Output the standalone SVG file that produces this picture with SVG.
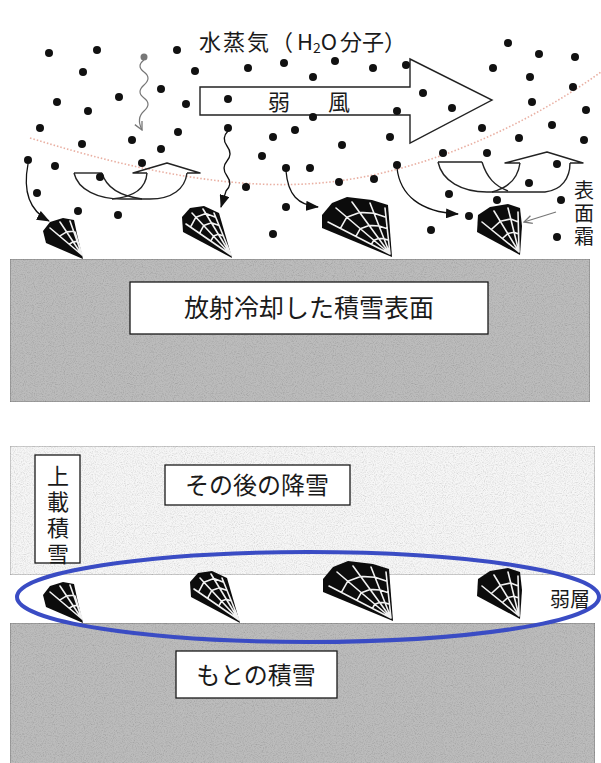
<svg xmlns="http://www.w3.org/2000/svg" xmlns:xlink="http://www.w3.org/1999/xlink" width="601" height="763" viewBox="0 0 601 763">
  <style>
    .lbl { font-family: "Noto Sans CJK JP", "Noto Sans", sans-serif; fill: #1a1a1a; }
    .vert { writing-mode: vertical-rl; text-orientation: upright; }
    .box { fill: #ffffff; stroke: #1a1a1a; stroke-width: 1.3; }
    .dot { fill: #111111; }
    .crys { fill: #0c0c0c; }
    .web { fill: none; stroke: #f2f2f2; stroke-width: 1.6; stroke-linecap: round; stroke-linejoin: round; }
    .flow { fill: none; stroke: #111111; stroke-width: 1.3; }
    .hollow { fill: none; stroke: #222222; stroke-width: 1.4; stroke-linejoin: round; }
    .snow { fill: #bcbcbc; stroke: #7a7a7a; stroke-width: 1; }
    .fresh { fill: #f6f6f6; stroke: #a0a0a0; stroke-width: 1; }
  </style>
  <defs>
    <marker id="ah" viewBox="0 0 13 10" refX="12" refY="5" markerWidth="13" markerHeight="10" markerUnits="userSpaceOnUse" orient="auto">
      <path d="M0,0 L13,5 L0,10 Z" fill="#111"/>
    </marker>
    <marker id="av" viewBox="0 0 10 10" refX="9" refY="5" markerWidth="10" markerHeight="10" markerUnits="userSpaceOnUse" orient="auto">
      <path d="M1,1 L9,5 L1,9" fill="none" stroke="#777" stroke-width="1.3"/>
    </marker>
    <filter id="grain" x="0" y="0" width="100%" height="100%">
      <feTurbulence type="fractalNoise" baseFrequency="0.9" numOctaves="2" seed="4" result="n"/>
      <feColorMatrix in="n" type="matrix" values="0.3 0.3 0.3 0 0.5  0.3 0.3 0.3 0 0.5  0.3 0.3 0.3 0 0.5  0 0 0 0 1" result="g"/>
      <feBlend in="SourceGraphic" in2="g" mode="multiply" result="b"/>
      <feComposite in="b" in2="SourceGraphic" operator="in"/>
    </filter>
    <!-- frost crystals: black faceted bodies with a white web of radial and cross lines -->
    <g id="cr1">
      <polygon class="crys" points="43,231 50,222 63,218 74,220 77,234 83,259 46,243"/>
      <path class="web" d="M82,255 L50,228 M82,255 L60,222 M82,255 L70,221 M82,255 L75,232 M59.6,236.1 L66.6,231.9 L73.6,231.2 L77.1,238.9 M69.2,244.2 L73.2,241.8 L77.2,241.4 L79.2,245.8"/>
    </g>
    <g id="cr2">
      <polygon class="crys" points="182,217 190,208 204,206 219,213 232,258 183,232"/>
      <path class="web" d="M231,255 L186,224 M231,255 L192,213 M231,255 L203,209 M231,255 L214,213 M190.5,227.1 L195.9,217.2 L205.8,213.6 L215.7,217.2 M199.5,233.3 L203.7,225.6 L211.4,222.8 L219.1,225.6 M210.8,241.1 L213.5,236.1 L218.4,234.3 L223.4,236.1"/>
    </g>
    <g id="cr3">
      <polygon class="crys" points="322,215 332,203 347,197 372,200 388,205 392,257 322,228"/>
      <path class="web" d="M390,254 L328,222 M390,254 L336,208 M390,254 L352,202 M390,254 L370,203 M390,254 L385,208 M340.4,228.4 L346.8,217.2 L359.6,212.4 L374,213.2 L386,217.2 M355.9,236.4 L360.3,228.7 L369.1,225.4 L379,226 L387.3,228.7 M371.4,244.4 L373.8,240.2 L378.6,238.4 L384,238.7 L388.5,240.2"/>
    </g>
    <g id="cr4">
      <polygon class="crys" points="478,215 490,207 508,204 520,208 522,226 520,255 477,232"/>
      <path class="web" d="M519,252 L482,222 M519,252 L494,211 M519,252 L508,208 M519,252 L518,212 M491.3,229.5 L500.3,221.3 L510.8,219 L518.3,222 M502.4,238.5 L507.8,233.6 L514,232.2 L518.6,234"/>
    </g>
  </defs>

  <rect width="601" height="763" fill="#ffffff"/>

  <!-- cold-air boundary above the snow surface -->
  <path d="M30,138 C140,172 240,192 330,182 C420,172 520,130 601,72" fill="none" stroke="#e39b8b" stroke-width="1.6" stroke-dasharray="1.5 2" opacity="0.8"/>

  <!-- upper panel: radiatively cooled snow surface -->
  <g id="snow-surface">
    <rect class="snow" x="10" y="259" width="580" height="143" filter="url(#grain)"/>
    <rect class="box" x="130" y="282" width="358" height="52"/>
    <text class="lbl" x="309" y="317" font-size="25" text-anchor="middle">放射冷却した積雪表面</text>
  </g>

  <g id="vapor-title">
    <text class="lbl" y="50" font-size="22"><tspan x="199" letter-spacing="2">水蒸気（</tspan><tspan x="297">H</tspan><tspan font-size="14" dy="3">2</tspan><tspan dy="-3">O</tspan><tspan x="340">分子）</tspan></text>
  </g>

  <g id="wind">
    <path d="M200,87 H410 V59 L492,100 L410,143 V115 H200 Z" fill="#ffffff" stroke="#222" stroke-width="1.4" stroke-linejoin="miter"/>
    <text class="lbl" x="268" y="110" font-size="22" letter-spacing="8">弱　風</text>
  </g>

  <!-- turbulent exchange near the surface -->
  <g id="eddy-left" class="hollow">
    <path d="M74,173 C78,190 98,199 122,199 L150,199 C172,199 185,189 187,173"/>
    <path d="M74,173 H102"/>
    <path d="M102,173 C106,187 120,196 142,199"/>
    <path d="M147,173 C146,188 134,197 112,199"/>
    <path d="M147,173 H133 L167,163 L200,173 H187"/>
  </g>
  <g id="eddy-right" class="hollow">
    <path d="M438,162 C442,181 462,192 487,192 L545,192 C562,190 570,178 570,163"/>
    <path d="M438,162 H482"/>
    <path d="M482,162 C487,178 495,186 508,191"/>
    <path d="M520,163 C518,178 508,188 492,192"/>
    <path d="M520,163 H505 L547,152 L583,163 H570"/>
  </g>

  <!-- water vapour molecules -->
  <g id="vapor">
    <circle class="dot" cx="49" cy="53" r="4"/><circle class="dot" cx="97" cy="50" r="4"/><circle class="dot" cx="177" cy="50" r="4"/>
    <circle class="dot" cx="83" cy="72" r="4"/><circle class="dot" cx="195" cy="71" r="4"/><circle class="dot" cx="248" cy="68" r="4"/>
    <circle class="dot" cx="284" cy="63" r="4"/><circle class="dot" cx="161" cy="89" r="4"/><circle class="dot" cx="57" cy="102" r="4"/>
    <circle class="dot" cx="119" cy="97" r="4"/><circle class="dot" cx="186" cy="104" r="4"/><circle class="dot" cx="228" cy="99" r="4"/>
    <circle class="dot" cx="88" cy="111" r="4"/><circle class="dot" cx="40" cy="128" r="4"/><circle class="dot" cx="178" cy="132" r="4"/>
    <circle class="dot" cx="228" cy="128" r="4"/><circle class="dot" cx="273" cy="137" r="4"/><circle class="dot" cx="295" cy="130" r="4"/>
    <circle class="dot" cx="82" cy="144" r="4"/><circle class="dot" cx="132" cy="140" r="4"/><circle class="dot" cx="161" cy="149" r="4"/>
    <circle class="dot" cx="262" cy="156" r="4"/><circle class="dot" cx="28" cy="160" r="4"/><circle class="dot" cx="55" cy="166" r="4"/>
    <circle class="dot" cx="142" cy="163" r="4"/><circle class="dot" cx="286" cy="168" r="4"/><circle class="dot" cx="100" cy="177" r="4"/>
    <circle class="dot" cx="246" cy="187" r="4"/><circle class="dot" cx="37" cy="193" r="4"/><circle class="dot" cx="78" cy="211" r="4"/>
    <circle class="dot" cx="118" cy="215" r="4"/><circle class="dot" cx="286" cy="207" r="4"/><circle class="dot" cx="273" cy="234" r="4"/>
    <circle class="dot" cx="508" cy="43" r="4"/><circle class="dot" cx="335" cy="61" r="4"/><circle class="dot" cx="373" cy="68" r="4"/>
    <circle class="dot" cx="406" cy="65" r="4"/><circle class="dot" cx="313" cy="77" r="4"/><circle class="dot" cx="539" cy="54" r="4"/>
    <circle class="dot" cx="575" cy="57" r="4"/><circle class="dot" cx="493" cy="68" r="4"/><circle class="dot" cx="530" cy="77" r="4"/>
    <circle class="dot" cx="573" cy="87" r="4"/><circle class="dot" cx="423" cy="93" r="4"/><circle class="dot" cx="452" cy="108" r="4"/>
    <circle class="dot" cx="397" cy="111" r="4"/><circle class="dot" cx="313" cy="117" r="4"/><circle class="dot" cx="532" cy="102" r="4"/>
    <circle class="dot" cx="586" cy="110" r="4"/><circle class="dot" cx="482" cy="128" r="4"/><circle class="dot" cx="552" cy="125" r="4"/>
    <circle class="dot" cx="390" cy="137" r="4"/><circle class="dot" cx="342" cy="145" r="4"/><circle class="dot" cx="519" cy="138" r="4"/>
    <circle class="dot" cx="584" cy="140" r="4"/><circle class="dot" cx="443" cy="153" r="4"/><circle class="dot" cx="487" cy="153" r="4"/>
    <circle class="dot" cx="310" cy="168" r="4"/><circle class="dot" cx="397" cy="165" r="4"/><circle class="dot" cx="339" cy="182" r="4"/>
    <circle class="dot" cx="374" cy="179" r="4"/><circle class="dot" cx="557" cy="164" r="4"/><circle class="dot" cx="529" cy="183" r="4"/>
    <circle class="dot" cx="449" cy="194" r="4"/><circle class="dot" cx="497" cy="200" r="4"/><circle class="dot" cx="561" cy="200" r="4"/>
    <circle class="dot" cx="469" cy="216" r="4"/><circle class="dot" cx="431" cy="230" r="4"/><circle class="dot" cx="557" cy="237" r="4"/>
    <circle cx="144" cy="57" r="3.5" fill="#777"/>
  </g>

  <!-- surface hoar on the cooled surface -->
  <g id="hoar-top-1"><use href="#cr1" xlink:href="#cr1"/></g>
  <g id="hoar-top-2"><use href="#cr2" xlink:href="#cr2"/></g>
  <g id="hoar-top-3"><use href="#cr3" xlink:href="#cr3"/></g>
  <g id="hoar-top-4"><use href="#cr4" xlink:href="#cr4"/></g>

  <g id="hoar-label">
    <text class="lbl vert" x="584" y="180" font-size="20" letter-spacing="3" fill="#333">表面霜</text>
  </g>

  <!-- lower panel: buried weak layer -->
  <g id="new-snow">
    <rect class="fresh" x="10" y="446" width="585" height="129" filter="url(#grain)"/>
    <rect class="box" x="35" y="455" width="45" height="108"/>
    <text class="lbl vert" x="58" y="465" font-size="22" letter-spacing="4">上載積雪</text>
    <rect class="box" x="165" y="465" width="185" height="40"/>
    <text class="lbl" x="257" y="494" font-size="24" text-anchor="middle">その後の降雪</text>
  </g>

  <g id="old-snow">
    <rect class="snow" x="10" y="623" width="585" height="145" filter="url(#grain)"/>
    <rect class="box" x="176" y="651" width="161" height="47"/>
    <text class="lbl" x="256" y="684" font-size="24" text-anchor="middle">もとの積雪</text>
  </g>

  <g id="hoar-buried-1"><use href="#cr1" xlink:href="#cr1" transform="translate(0,364)"/></g>
  <g id="hoar-buried-2"><use href="#cr2" xlink:href="#cr2" transform="translate(8,365)"/></g>
  <g id="hoar-buried-3"><use href="#cr3" xlink:href="#cr3" transform="translate(1,364)"/></g>
  <g id="hoar-buried-4"><use href="#cr4" xlink:href="#cr4" transform="translate(0,364)"/></g>

  <g id="weak-layer">
    <ellipse cx="308" cy="597" rx="291" ry="45" fill="none" stroke="#3a4cc4" stroke-width="4"/>
    <text class="lbl" x="550" y="607" font-size="20" fill="#555">弱層</text>
  </g>

  <!-- connectors: vapour paths and the label pointer -->
  <g id="connectors">
    <path d="M144,60 Q136,66 144,72 T144,85 T144,98 T144,111 T142,130" fill="none" stroke="#777" stroke-width="1.2" marker-end="url(#av)"/>
    <path d="M228,131 Q221,138 227,146 T227,161 T227,176 T226,191 L221,207" class="flow" marker-end="url(#ah)"/>
    <path d="M28,164 C22,195 32,212 49,221" class="flow" marker-end="url(#ah)"/>
    <path d="M286,171 C288,195 298,205 318,207" class="flow" marker-end="url(#ah)"/>
    <path d="M397,168 C400,195 420,212 458,214" class="flow" marker-end="url(#ah)"/>
    <path d="M556,212 L524,222" fill="none" stroke="#777" stroke-width="1.3" marker-end="url(#av)"/>
  </g>
</svg>
